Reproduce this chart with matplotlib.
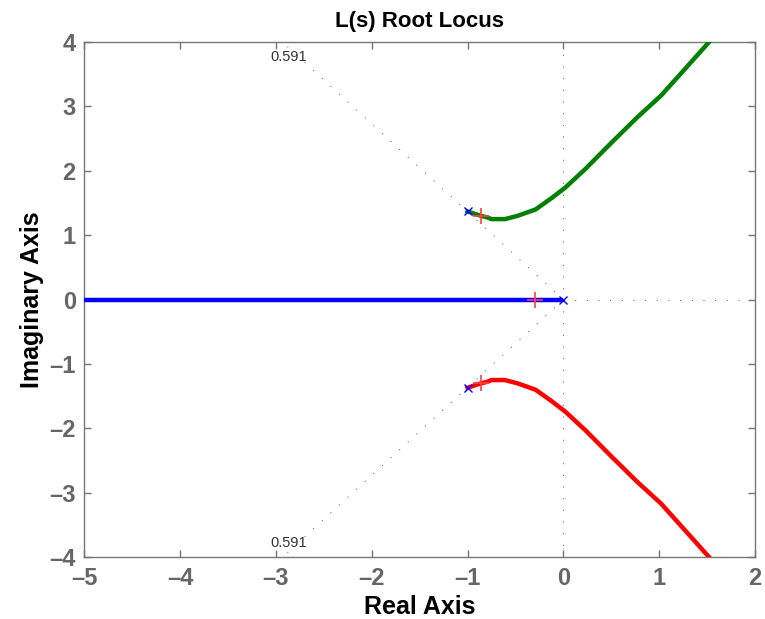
import matplotlib
matplotlib.use("Agg")
import matplotlib.pyplot as plt

plt.rcParams['font.family'] = ['Liberation Sans', 'DejaVu Sans']

# Open-loop poles
pole_re = [0.0, -1.0, -1.0]
pole_im = [0.0, 1.37, -1.37]

# Closed-loop poles at the selected gain
cl_re = [-0.30, -0.86, -0.86]
cl_im = [0.0, 1.30, -1.30]

# Root locus branches
blue_re = [0.0, -0.3, -1.0, -2.0, -3.0, -4.0, -5.0, -5.5]
blue_im = [0.0, 0.0, 0.0, 0.0, 0.0, 0.0, 0.0, 0.0]

green_re = [-1.00, -0.86, -0.80, -0.75, -0.61, -0.48, -0.29, -0.12, 0.02, 0.23, 0.49, 0.77, 1.02, 1.52]
green_im = [1.37, 1.30, 1.28, 1.25, 1.25, 1.30, 1.40, 1.58, 1.74, 2.03, 2.42, 2.83, 3.17, 4.00]

red_re = [-1.00, -0.86, -0.80, -0.75, -0.61, -0.48, -0.29, -0.12, 0.02, 0.23, 0.49, 0.77, 1.02, 1.52]
red_im = [-1.37, -1.30, -1.28, -1.25, -1.25, -1.30, -1.40, -1.58, -1.74, -2.03, -2.42, -2.83, -3.17, -4.00]

# Damping ratio grid line
zeta = 0.591
zeta_end_re = -2.93
zeta_end_im = 4.0

xticks = [-5, -4, -3, -2, -1, 0, 1, 2]
yticks = [-4, -3, -2, -1, 0, 1, 2, 3, 4]

fig = plt.figure(figsize=(7.65, 6.19), dpi=100)
ax = fig.add_axes([0.110, 0.100, 0.877, 0.832])

grid_kw = dict(color='#555555', linestyle=(0, (1, 11)), linewidth=0.7, zorder=1)
ax.plot([0, 0], [-4, 4], **grid_kw)
ax.plot([0, 2], [0, 0], **grid_kw)
ax.plot([0, zeta_end_re], [0, zeta_end_im], **grid_kw)
ax.plot([0, zeta_end_re], [0, -zeta_end_im], **grid_kw)
ax.text(-3.06, 3.77, f"{zeta:.3f}", fontsize=10.5, color='#333333', ha='left', va='center')
ax.text(-3.06, -3.78, f"{zeta:.3f}", fontsize=10.5, color='#333333', ha='left', va='center')

ax.plot(blue_re, blue_im, color='#0000ff', linewidth=3.2, zorder=3, solid_capstyle='butt')
ax.plot(green_re, green_im, color='#008000', linewidth=3.2, zorder=3)
ax.plot(red_re, red_im, color='#ff0000', linewidth=3.2, zorder=3)

ax.plot(pole_re, pole_im, linestyle='none', marker='x', color='#0000ff',
        markersize=6, markeredgewidth=1.0, zorder=5)
ax.plot(cl_re, cl_im, linestyle='none', marker='+', color='#ff4040',
        markersize=12, markeredgewidth=1.2, zorder=4)

ax.set_xlim(-5, 2)
ax.set_ylim(-4, 4)
ax.set_xticks(xticks)
ax.set_yticks(yticks)
ax.set_xticklabels([str(t).replace('-', '\u2013') for t in xticks])
ax.set_yticklabels([str(t).replace('-', '\u2013') for t in yticks])

for s in ax.spines.values():
    s.set_color('#777777')
    s.set_linewidth(1.0)
ax.tick_params(direction='in', length=5, width=1.0, color='#777777',
               top=True, right=True, labelcolor='#666666')
ax.tick_params(axis='x', pad=7)
ax.tick_params(axis='y', pad=6)
for lab in ax.get_xticklabels() + ax.get_yticklabels():
    lab.set_fontweight('bold')
    lab.set_fontsize(17)

ax.set_xlabel('Real Axis', fontsize=18, fontweight='bold', labelpad=4)
ax.set_ylabel('Imaginary Axis', fontsize=18, fontweight='bold', labelpad=4)
ax.set_title('L(s) Root Locus', fontsize=16, fontweight='bold', pad=11)

fig.savefig('out.png', dpi=100)
